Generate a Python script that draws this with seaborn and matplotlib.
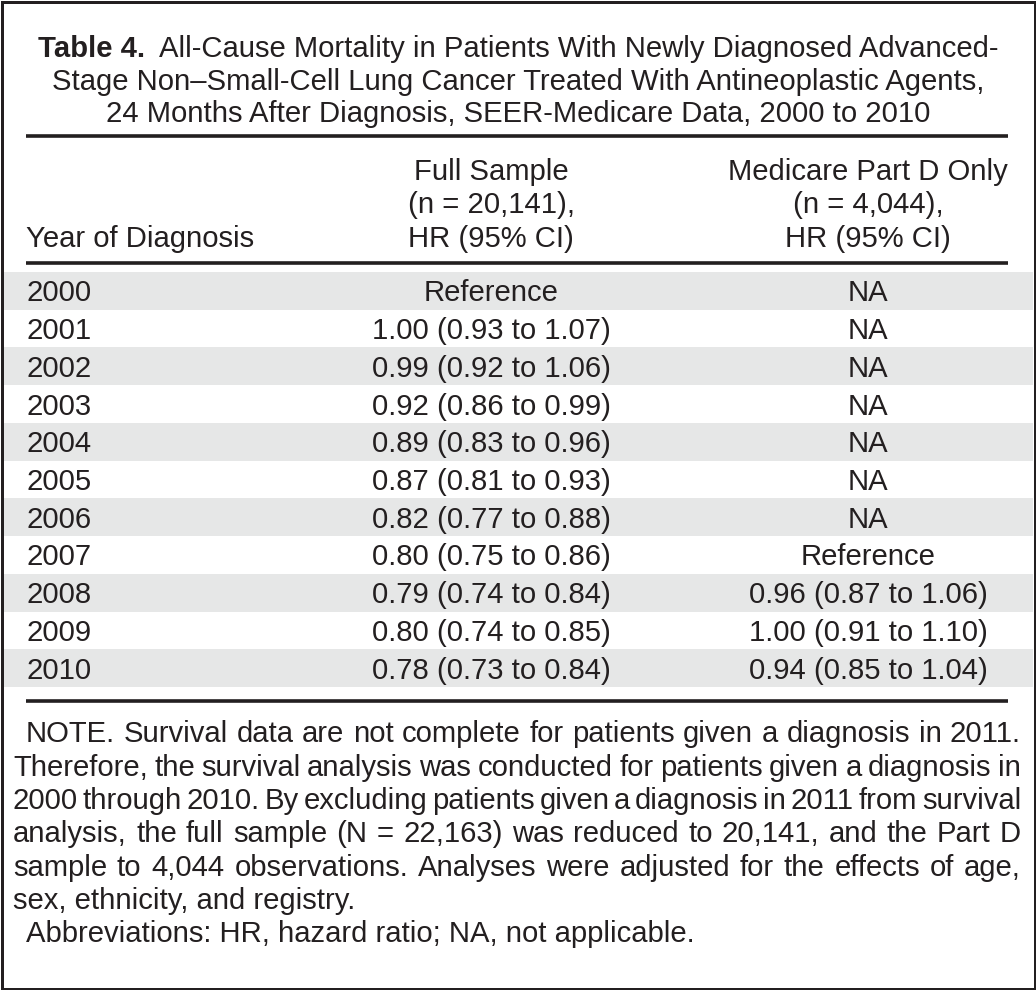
import numpy as np
import pandas as pd
import matplotlib
matplotlib.use("Agg")
import matplotlib.pyplot as plt
import seaborn as sns
from matplotlib import font_manager
from matplotlib.colors import ListedColormap
from matplotlib.patches import Rectangle
from matplotlib.transforms import blended_transform_factory

# ---------------- data ----------------
title_label = "Table 4."
title_lines = [
    "All-Cause Mortality in Patients With Newly Diagnosed Advanced-",
    "Stage Non\u2013Small-Cell Lung Cancer Treated With Antineoplastic Agents,",
    "24 Months After Diagnosis, SEER-Medicare Data, 2000 to 2010",
]
row_header = "Year of Diagnosis"
full_header = ["Full Sample", "(n = 20,141),", "HR (95% CI)"]
partd_header = ["Medicare Part D Only", "(n = 4,044),", "HR (95% CI)"]
years = ["2000", "2001", "2002", "2003", "2004", "2005",
         "2006", "2007", "2008", "2009", "2010"]
full_sample = ["Reference",
               "1.00 (0.93 to 1.07)",
               "0.99 (0.92 to 1.06)",
               "0.92 (0.86 to 0.99)",
               "0.89 (0.83 to 0.96)",
               "0.87 (0.81 to 0.93)",
               "0.82 (0.77 to 0.88)",
               "0.80 (0.75 to 0.86)",
               "0.79 (0.74 to 0.84)",
               "0.80 (0.74 to 0.85)",
               "0.78 (0.73 to 0.84)"]
part_d = ["NA", "NA", "NA", "NA", "NA", "NA", "NA",
          "Reference",
          "0.96 (0.87 to 1.06)",
          "1.00 (0.91 to 1.10)",
          "0.94 (0.85 to 1.04)"]
note_lines = [
    "NOTE. Survival data are not complete for patients given a diagnosis in 2011.",
    "Therefore, the survival analysis was conducted for patients given a diagnosis in",
    "2000 through 2010. By excluding patients given a diagnosis in 2011 from survival",
    "analysis, the full sample (N = 22,163) was reduced to 20,141, and the Part D",
    "sample to 4,044 observations. Analyses were adjusted for the effects of age,",
    "sex, ethnicity, and registry.",
]
abbrev_line = "Abbreviations: HR, hazard ratio; NA, not applicable."

table = pd.DataFrame({"year": years, "full": full_sample, "partd": part_d})

# ---------------- style ----------------
def pick(names):
    for n in names:
        try:
            font_manager.findfont(font_manager.FontProperties(family=n),
                                  fallback_to_default=False)
            return n
        except Exception:
            pass
    return "DejaVu Sans"

sns.set_theme(style="white")
REG = pick(["Liberation Sans", "Arial", "DejaVu Sans"])
BOLD = pick(["Liberation Sans Narrow", "Liberation Sans", "DejaVu Sans"])
plt.rcParams["font.family"] = [REG, "DejaVu Sans"]

INK = "#231f20"
GRAY = "#e6e7e7"
FS = 21.1

W, H = 1036, 990
fig = plt.figure(figsize=(W / 100, H / 100), dpi=100)
fig.patch.set_facecolor("white")

# body band area (pixels)
BODY_TOP, BODY_BOT = 272, 687
hm = fig.add_axes([3 / W, 1 - BODY_BOT / H, (W - 6) / W, (BODY_BOT - BODY_TOP) / H])
stripes = pd.DataFrame({"band": [i % 2 for i in range(len(table))]}, index=table["year"])
sns.heatmap(stripes, ax=hm, cmap=ListedColormap([GRAY, "#ffffff"]), vmin=0, vmax=1,
            cbar=False, xticklabels=False, yticklabels=False, linewidths=0)
hm.set_axis_off()

ax = fig.add_axes([0, 0, 1, 1])
ax.set_xlim(0, W)
ax.set_ylim(H, 0)
ax.set_axis_off()

renderer = fig.canvas.get_renderer()

def width_of(t):
    return t.get_window_extent(renderer).width

def txt(x, y, s, **kw):
    kw.setdefault("fontsize", FS)
    kw.setdefault("color", INK)
    kw.setdefault("va", "baseline")
    return ax.text(x, y, s, **kw)

# ---- title ----
CX = 518
t_b = txt(0, 57, title_label, fontweight="bold", family=[BOLD, "DejaVu Sans"])
t_r = txt(0, 57, title_lines[0])
gap = 14
tot = width_of(t_b) + gap + width_of(t_r)
t_b.set_x(CX - tot / 2)
t_r.set_x(CX - tot / 2 + width_of(t_b) + gap)
txt(CX, 90, title_lines[1], ha="center")
txt(CX, 122.5, title_lines[2], ha="center")

# ---- rules ----
ax.hlines([136, 263, 701], 26, 1008, color=INK, lw=2.6)

# ---- header ----
COL_YEAR, COL_FULL, COL_PARTD = 26, 491, 868
hdr_y = [180, 213, 247]
txt(COL_YEAR, hdr_y[2], row_header)
for y, a, b in zip(hdr_y, full_header, partd_header):
    txt(COL_FULL, y, a, ha="center")
    txt(COL_PARTD, y, b, ha="center")

# ---- body (rows placed on heatmap row scale) ----
row_tr = blended_transform_factory(ax.transData, hm.transData)
row_px = (BODY_BOT - BODY_TOP) / len(table)
off = 10.5 / row_px
for i, r in enumerate(table.itertuples()):
    y = i + 0.5 + off
    ax.text(COL_YEAR, y, r.year, transform=row_tr, fontsize=FS, color=INK, va="baseline")
    ax.text(COL_FULL, y, r.full, transform=row_tr, fontsize=FS, color=INK,
            va="baseline", ha="center")
    ax.text(COL_PARTD, y, r.partd, transform=row_tr, fontsize=FS, color=INK,
            va="baseline", ha="center")

# ---- note (justified) ----
def justify(line, y, x0, x1):
    words = line.split(" ")
    ts = [txt(0, y, w) for w in words]
    ws = [width_of(t) for t in ts]
    g = (x1 - x0 - sum(ws)) / max(len(words) - 1, 1)
    x = x0
    for t, w in zip(ts, ws):
        t.set_x(x)
        x += w + g

note_y = [742, 775.5, 809, 842, 875.5, 909]
for k, (line, y) in enumerate(zip(note_lines, note_y)):
    if k == len(note_lines) - 1:
        txt(13, y, line)
    else:
        justify(line, y, 26 if k == 0 else 13, 1021)
txt(26, 942, abbrev_line)

# ---- outer frame ----
ax.add_patch(Rectangle((1.5, 1.5), W - 3, H - 3, fill=False, edgecolor=INK,
                       lw=3 * 0.72, clip_on=False))

fig.savefig("out.png", dpi=100, facecolor="white")
